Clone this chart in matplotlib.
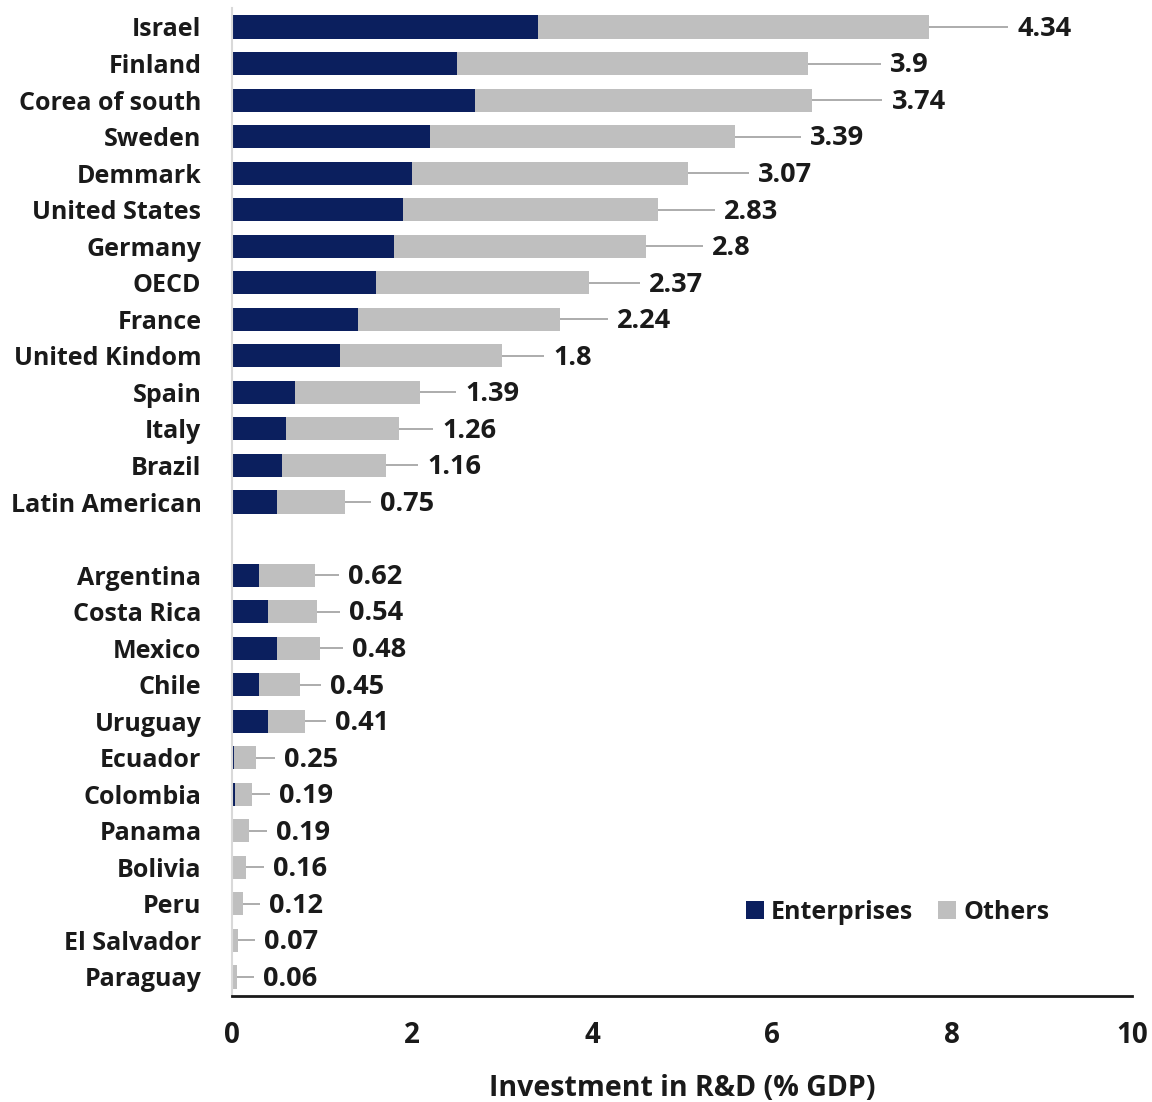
import numpy as np
import matplotlib
matplotlib.use("Agg")
import matplotlib.pyplot as plt

countries = ["Israel", "Finland", "Corea of south", "Sweden", "Demmark", "United States",
             "Germany", "OECD", "France", "United Kindom", "Spain", "Italy", "Brazil",
             "Latin American", "Argentina", "Costa Rica", "Mexico", "Chile", "Uruguay",
             "Ecuador", "Colombia", "Panama", "Bolivia", "Peru", "El Salvador", "Paraguay"]
enterprises = [3.40, 2.50, 2.70, 2.20, 2.00, 1.90, 1.80, 1.60, 1.40, 1.20, 0.70, 0.60, 0.55,
               0.50, 0.30, 0.40, 0.50, 0.30, 0.40, 0.02, 0.03, 0.0, 0.0, 0.0, 0.0, 0.0]
others = [4.34, 3.9, 3.74, 3.39, 3.07, 2.83, 2.8, 2.37, 2.24, 1.8, 1.39, 1.26, 1.16,
          0.75, 0.62, 0.54, 0.48, 0.45, 0.41, 0.25, 0.19, 0.19, 0.16, 0.12, 0.07, 0.06]
labels = ["4.34", "3.9", "3.74", "3.39", "3.07", "2.83", "2.8", "2.37", "2.24", "1.8", "1.39",
          "1.26", "1.16", "0.75", "0.62", "0.54", "0.48", "0.45", "0.41", "0.25", "0.19",
          "0.19", "0.16", "0.12", "0.07", "0.06"]
xticks = [0, 2, 4, 6, 8, 10]
gap_after = "Latin American"

NAVY = "#0b1f5e"
GRAY = "#bfbfbf"
TXT = "#1a1a1a"
FONT = "Open Sans"

plt.rcParams['font.family'] = [FONT, 'DejaVu Sans']
plt.rcParams['font.weight'] = 'bold'

fig = plt.figure(figsize=(11.52, 11.02), dpi=100)
ax = fig.add_axes([232/1152, 1 - 996/1102, 900/1152, (996 - 8)/1102])

n = len(countries)
gi = countries.index(gap_after)
ypos = np.array([i + (1 if i > gi else 0) for i in range(n)], dtype=float)

ent = np.array(enterprises)
oth = np.array(others)
ax.barh(ypos, ent, height=0.63, color=NAVY, label="Enterprises")
ax.barh(ypos, oth, left=ent, height=0.63, color=GRAY, label="Others")

ends = ent + oth
for y, e, v, lab in zip(ypos, ends, oth, labels):
    off = 0.27 + 0.165 * v
    lx = e + off
    ax.plot([e, lx - 0.1], [y, y], color="#a6a6a6", lw=1.3, solid_capstyle='butt')
    ax.text(lx, y + 0.05, lab, va='center', ha='left', fontsize=19.5, fontweight='bold', color=TXT)

ax.set_xlim(0, 10)
ax.set_ylim(ypos[-1] + 0.52, -0.52)
ax.set_yticks(ypos)
ax.set_yticklabels(countries, fontsize=18, fontweight='bold', color=TXT)
ax.set_xticks(xticks)
ax.set_xticklabels([str(t) for t in xticks], fontsize=20, fontweight='bold', color=TXT)
ax.tick_params(axis='both', length=0)
ax.tick_params(axis='x', pad=18)
ax.tick_params(axis='y', pad=22)

for s in ['top', 'right']:
    ax.spines[s].set_visible(False)
ax.spines['left'].set_color("#d9d9d9")
ax.spines['left'].set_linewidth(1.5)
ax.spines['bottom'].set_color(TXT)
ax.spines['bottom'].set_linewidth(2)

ax.set_xlabel("Investment in R&D (% GDP)", fontsize=20.5, fontweight='bold', labelpad=17, color=TXT)

leg = ax.legend(loc='lower left', bbox_to_anchor=(0.56, 0.062), ncol=2, frameon=False,
                fontsize=18, handlelength=0.7, handleheight=0.7, handletextpad=0.3,
                columnspacing=1.0, borderaxespad=0)
for t in leg.get_texts():
    t.set_fontweight('bold')
    t.set_color(TXT)

fig.savefig("out.png", dpi=100)
